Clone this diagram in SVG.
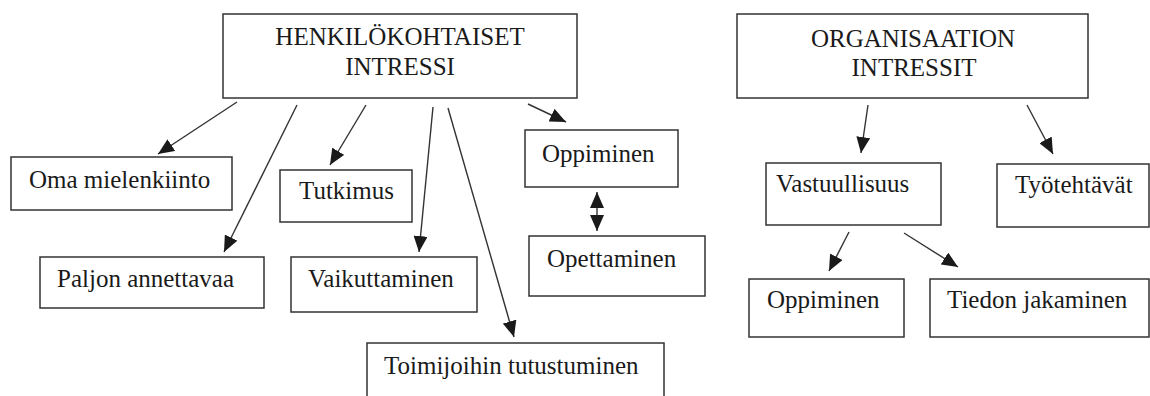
<svg xmlns="http://www.w3.org/2000/svg" width="1150" height="396" viewBox="0 0 1150 396">
<defs>
<style>
.box{fill:#fff;stroke:#333;stroke-width:1.5}
text{font-family:'Liberation Serif','Times New Roman',Times,'DejaVu Serif',serif;font-size:25px;fill:#1a1a1a}
.c{text-anchor:middle}
.ln{stroke:#333;stroke-width:1.4;fill:none}
.a{marker-end:url(#ah)}
.d{marker-end:url(#ah);marker-start:url(#ahs)}
</style>
<marker id="ah" markerUnits="userSpaceOnUse" markerWidth="17" markerHeight="14" refX="16" refY="7" orient="auto"><path d="M0,0 L16,7 L0,14 z" fill="#1a1a1a"/></marker>
<marker id="ahs" markerUnits="userSpaceOnUse" markerWidth="17" markerHeight="14" refX="0" refY="7" orient="auto"><path d="M16,0 L0,7 L16,14 z" fill="#1a1a1a"/></marker>
</defs>
<rect width="1150" height="396" fill="#fff"/>
<g id="connectors">
<line class="ln a" x1="237" y1="102" x2="158" y2="154"/>
<line class="ln a" x1="297" y1="105" x2="224" y2="252"/>
<line class="ln a" x1="366" y1="105" x2="330" y2="165"/>
<line class="ln a" x1="433" y1="107" x2="419" y2="252"/>
<line class="ln a" x1="448" y1="108" x2="514" y2="337"/>
<line class="ln a" x1="528" y1="104" x2="566" y2="122"/>
<line class="ln d" x1="597" y1="192" x2="597" y2="231"/>
<line class="ln a" x1="868" y1="105" x2="861" y2="153"/>
<line class="ln a" x1="1027" y1="105" x2="1053" y2="154"/>
<line class="ln a" x1="849" y1="232" x2="829" y2="271"/>
<line class="ln a" x1="904" y1="233" x2="958" y2="267"/>
</g>
<g font-family="'Liberation Serif', 'Times New Roman', serif" font-size="25">
<g id="henkilokohtaiset">
<rect class="box" x="223" y="14" width="354" height="84"/>
<text class="c" x="400" y="45">HENKILÖKOHTAISET</text>
<text class="c" x="400" y="75">INTRESSI</text>
</g>
<g id="organisaation">
<rect class="box" x="737" y="14" width="351" height="84"/>
<text class="c" x="913" y="47">ORGANISAATION</text>
<text class="c" x="914" y="76">INTRESSIT</text>
</g>
<g id="oma"><rect class="box" x="11" y="157" width="221" height="53"/><text x="29" y="188">Oma mielenkiinto</text></g>
<g id="paljon"><rect class="box" x="40" y="257" width="224" height="51"/><text x="57" y="287">Paljon annettavaa</text></g>
<g id="tutkimus"><rect class="box" x="280" y="170" width="132" height="52"/><text x="299" y="199">Tutkimus</text></g>
<g id="vaikuttaminen"><rect class="box" x="291" y="257" width="186" height="55"/><text x="308" y="287">Vaikuttaminen</text></g>
<g id="toimijoihin"><rect class="box" x="367" y="343" width="297" height="80"/><text x="384" y="374">Toimijoihin tutustuminen</text></g>
<g id="oppiminen1"><rect class="box" x="525" y="130" width="153" height="57"/><text x="542" y="162">Oppiminen</text></g>
<g id="opettaminen"><rect class="box" x="529" y="236" width="176" height="60"/><text x="547" y="267">Opettaminen</text></g>
<g id="vastuullisuus"><rect class="box" x="766" y="163" width="175" height="62"/><text x="776" y="192">Vastuullisuus</text></g>
<g id="tyotehtavat"><rect class="box" x="997" y="164" width="152" height="63"/><text x="1015" y="193">Työtehtävät</text></g>
<g id="oppiminen2"><rect class="box" x="749" y="279" width="155" height="58"/><text x="767" y="308">Oppiminen</text></g>
<g id="tiedon"><rect class="box" x="930" y="279" width="219" height="58"/><text x="947" y="308">Tiedon jakaminen</text></g>
</g>
</svg>
